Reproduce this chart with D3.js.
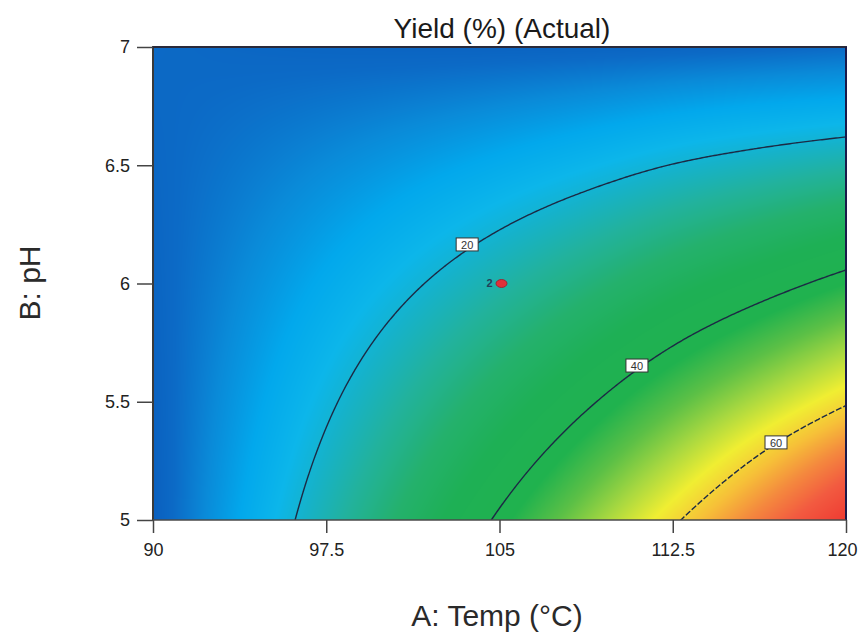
<!DOCTYPE html>
<html>
<head>
<meta charset="utf-8">
<script src="https://cdn.jsdelivr.net/npm/d3@7"></script>
<style>
  html, body { margin: 0; padding: 0; background: #fff; }
  svg { display: block; font-family: "Liberation Sans", Arial, sans-serif; }
</style>
</head>
<body>
<svg id="chart" width="859" height="634"></svg>
<script>
// ---- Data ----
const temps = [90, 93.75, 97.5, 101.25, 105, 108.75, 112.5, 116.25, 120];   // A: Temp (°C) grid
const phs   = [5, 5.25, 5.5, 5.75, 6, 6.25, 6.5, 6.75, 7];                   // B: pH grid
// Yield (%) estimated at each grid node; one row per pH value
const yieldPH500 = [5.95, 14.47, 23.13, 31.92, 40.85, 49.92, 59.13, 68.47, 77.95];
const yieldPH525 = [6.20, 13.59, 21.13, 28.79, 36.60, 44.54, 52.63, 60.84, 69.20];
const yieldPH550 = [6.45, 12.72, 19.13, 25.67, 32.35, 39.17, 46.13, 52.80, 59.40];
const yieldPH575 = [6.70, 11.84, 17.13, 22.54, 28.10, 33.79, 39.63, 45.20, 50.80];
const yieldPH600 = [6.95, 10.97, 15.13, 19.42, 23.85, 28.42, 33.13, 37.50, 42.00];
const yieldPH625 = [7.20, 10.09, 13.13, 16.29, 19.60, 23.04, 26.63, 29.90, 33.20];
const yieldPH650 = [7.45, 9.22, 11.13, 13.17, 15.35, 17.67, 20.13, 22.20, 24.20];
const yieldPH675 = [7.70, 8.34, 9.13, 10.04, 11.10, 12.29, 13.63, 14.70, 15.60];
const yieldPH700 = [7.95, 7.47, 7.13, 6.92, 6.85, 6.92, 7.13, 7.47, 7.95];
const yieldRows = [yieldPH500, yieldPH525, yieldPH550, yieldPH575, yieldPH600,
                   yieldPH625, yieldPH650, yieldPH675, yieldPH700];

const contourLevels = [20, 40, 60];
const contourLabelT  = [103.6, 110.95, 116.97];
const contourLabelPH = [6.163, 5.651, 5.326];

const designT = [105];
const designPH = [6];
const designCount = ["2"];

const xTicks = [90, 97.5, 105, 112.5, 120];
const yTicks = [5, 5.5, 6, 6.5, 7];

const colorStops = [6, 8, 11, 14.5, 18, 21, 25, 30, 35, 42, 47, 52, 57, 62, 67, 72, 78];
const colorList  = ["#0a5fbe", "#0c6ac6", "#0a8ad8", "#02a8ec", "#0cb6ea", "#16b2c8", "#22b29c",
                    "#24b16c", "#1eb055", "#20b24e", "#5cc046", "#a8d840", "#f0ee32", "#f6c038",
                    "#f4883e", "#f25a40", "#ee3a32"];

// ---- Layout ----
const svg = d3.select("#chart");
const L = 153, R = 846, T = 47, B = 520;
const x = d3.scaleLinear().domain([90, 120]).range([L, R]);
const y = d3.scaleLinear().domain([5, 7]).range([B, T]);
const color = d3.scaleLinear().domain(colorStops).range(colorList).clamp(true);

// smooth (Catmull-Rom) evaluation of the grid
const nT = temps.length, nP = phs.length;
function g(i, j) {
  if (i < 0) return 2 * g(0, j) - g(1, j);
  if (i > nT - 1) return 2 * g(nT - 1, j) - g(nT - 2, j);
  if (j < 0) return 2 * g(i, 0) - g(i, 1);
  if (j > nP - 1) return 2 * g(i, nP - 1) - g(i, nP - 2);
  return yieldRows[j][i];
}
function cr(p0, p1, p2, p3, t) {
  return 0.5 * (2 * p1 + (-p0 + p2) * t + (2 * p0 - 5 * p1 + 4 * p2 - p3) * t * t + (-p0 + 3 * p1 - 3 * p2 + p3) * t * t * t);
}
const tIdx = d3.scaleLinear().domain(d3.extent(temps)).range([0, nT - 1]);
const pIdx = d3.scaleLinear().domain(d3.extent(phs)).range([0, nP - 1]);
function field(tv, pv) {
  const u = tIdx(tv), v = pIdx(pv);
  let i = Math.min(nT - 2, Math.max(0, Math.floor(u)));
  let j = Math.min(nP - 2, Math.max(0, Math.floor(v)));
  const tu = u - i, tv2 = v - j;
  const rows = [];
  for (let dj = -1; dj <= 2; dj++) {
    rows.push(cr(g(i - 1, j + dj), g(i, j + dj), g(i + 1, j + dj), g(i + 2, j + dj), tu));
  }
  return cr(rows[0], rows[1], rows[2], rows[3], tv2);
}

// ---- Heat map (canvas -> image) ----
const W = R - L, H = B - T;
const canvas = document.createElement("canvas");
canvas.width = W; canvas.height = H;
const ctx = canvas.getContext("2d");
const img = ctx.createImageData(W, H);
for (let py = 0; py < H; py++) {
  const pv = y.invert(T + py + 0.5);
  for (let px = 0; px < W; px++) {
    const tv = x.invert(L + px + 0.5);
    const c = d3.rgb(color(field(tv, pv)));
    const k = (py * W + px) * 4;
    img.data[k] = c.r; img.data[k + 1] = c.g; img.data[k + 2] = c.b; img.data[k + 3] = 255;
  }
}
ctx.putImageData(img, 0, 0);
svg.append("image")
  .attr("x", L).attr("y", T).attr("width", W).attr("height", H)
  .attr("preserveAspectRatio", "none")
  .attr("href", canvas.toDataURL());

// ---- Contours ----
const nx = 348, ny = 238;
const stepT = (120 - 90) / (nx - 1), stepP = (7 - 5) / (ny - 1);
const values = new Array(nx * ny);
for (let j = 0; j < ny; j++) {
  const pv = 7 - j * stepP;
  for (let i = 0; i < nx; i++) values[j * nx + i] = field(90 + i * stepT, pv);
}
const contours = d3.contours().size([nx, ny]).thresholds(contourLevels)(values);
const proj = d3.geoTransform({
  point: function (cx, cy) {
    this.stream.point(x(90 + (cx - 0.5) * stepT), y(7 - (cy - 0.5) * stepP));
  }
});
const path = d3.geoPath(proj);
svg.append("clipPath").attr("id", "plotclip")
  .append("rect").attr("x", L).attr("y", T).attr("width", W).attr("height", H);
svg.append("g").attr("clip-path", "url(#plotclip)")
  .selectAll("path").data(contours).join("path")
  .attr("d", path)
  .attr("fill", "none")
  .attr("stroke", "#1c2a44")
  .attr("stroke-width", 1.4)
  .attr("stroke-dasharray", d => d.value === 60 ? "6,2" : null);

// contour labels
const lab = svg.append("g").selectAll("g").data(contourLevels).join("g")
  .attr("transform", (d, i) => `translate(${x(contourLabelT[i])},${y(contourLabelPH[i])})`);
lab.append("rect").attr("x", -11).attr("y", -7).attr("width", 22).attr("height", 13)
  .attr("fill", "#fff").attr("stroke", "#333").attr("stroke-width", 1);
lab.append("text").attr("text-anchor", "middle").attr("dy", "0.35em")
  .attr("font-size", 11).attr("fill", "#333").text(d => d);

// design point
const dp = svg.append("g").selectAll("g").data(designT).join("g")
  .attr("transform", (d, i) => `translate(${x(d)},${y(designPH[i])})`);
dp.append("ellipse").attr("cx", 2).attr("rx", 5.5).attr("ry", 4)
  .attr("fill", "#e0303a").attr("stroke", "#a01828").attr("stroke-width", 0.8);
dp.append("text").attr("x", -7).attr("dy", "0.35em").attr("text-anchor", "end")
  .attr("font-size", 11).attr("font-weight", "bold").attr("fill", "#22405a")
  .text((d, i) => designCount[i]);

// ---- Frame ----
svg.append("line").attr("x1", L).attr("x2", L).attr("y1", T - 1).attr("y2", B + 1)
  .attr("stroke", "#3a3a3a").attr("stroke-width", 2);
svg.append("line").attr("x1", L).attr("x2", R + 1).attr("y1", T).attr("y2", T)
  .attr("stroke", "#2a2a3a").attr("stroke-width", 2);
svg.append("line").attr("x1", R).attr("x2", R).attr("y1", T).attr("y2", B)
  .attr("stroke", "#1a1a4a").attr("stroke-width", 2);
svg.append("line").attr("x1", L).attr("x2", R).attr("y1", B).attr("y2", B)
  .attr("stroke", "#4a4a4a").attr("stroke-width", 1.5);

// ---- Axes ----
const xAxis = svg.append("g").attr("transform", `translate(0,${B})`)
  .call(d3.axisBottom(x).tickValues(xTicks).tickSize(13).tickPadding(10).tickFormat(d => String(d)));
const yAxis = svg.append("g").attr("transform", `translate(${L},0)`)
  .call(d3.axisLeft(y).tickValues(yTicks).tickSize(16).tickPadding(7).tickFormat(d => String(d)));
[xAxis, yAxis].forEach(a => {
  a.select(".domain").remove();
  a.selectAll(".tick line").attr("stroke", "#444").attr("stroke-width", 1.5);
  a.selectAll(".tick text").attr("font-size", 18).attr("fill", "#222")
    .attr("font-family", "'Liberation Sans', Arial, sans-serif");
});
// last x label sits slightly inside the window edge, as in the original
xAxis.selectAll(".tick text").filter(d => d === 120).attr("x", -4);

// ---- Titles ----
svg.append("text").attr("x", 502).attr("y", 38).attr("text-anchor", "middle")
  .attr("font-size", 28).attr("fill", "#1a1a1a").text("Yield (%) (Actual)");
svg.append("text").attr("x", 497).attr("y", 626).attr("text-anchor", "middle")
  .attr("font-size", 30).attr("fill", "#2a2a2a").text("A: Temp (°C)");
svg.append("text").attr("transform", "translate(40,283) rotate(-90)").attr("text-anchor", "middle")
  .attr("font-size", 30).attr("fill", "#2a2a2a").text("B: pH");
</script>
</body>
</html>
